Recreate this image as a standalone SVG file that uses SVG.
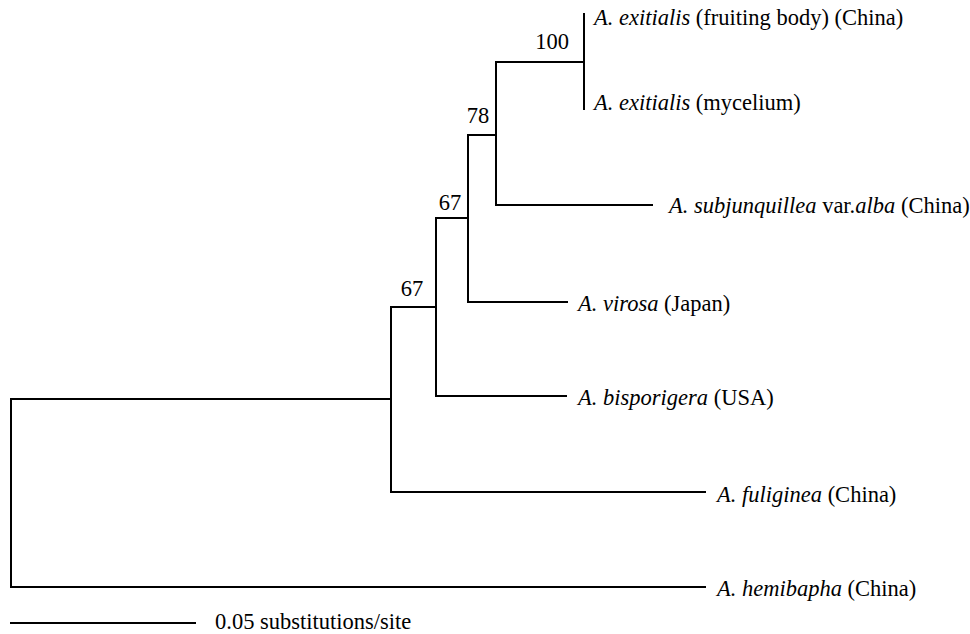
<svg xmlns="http://www.w3.org/2000/svg" width="970" height="634" viewBox="0 0 970 634">
<style>
.br{fill:none;stroke:#000;stroke-width:2;stroke-linecap:square}
.t{font-family:'Liberation Serif','Times New Roman',Times,'DejaVu Serif',serif;font-size:22.5px;fill:#000}
.i{font-style:italic}
.bs{text-anchor:middle}
</style>
<rect width="970" height="634" fill="#fff"/>
<g id="connectors">
<path class="br" d="M11,399 V587 H705"/>
<path class="br" d="M11,399 H391"/>
<path class="br" d="M391,307 V492 H705"/>
<path class="br" d="M391,307 H436"/>
<path class="br" d="M436,218 V396 H566"/>
<path class="br" d="M436,218 H468"/>
<path class="br" d="M468,135 V302 H567"/>
<path class="br" d="M468,135 H496"/>
<path class="br" d="M496,62 V205 H652"/>
<path class="br" d="M496,62 H584"/>
<path class="br" d="M584,14 V109"/>
</g>
<g id="node-100"><text class="t bs" x="552" y="49">100</text></g>
<g id="node-78"><text class="t bs" x="478" y="123">78</text></g>
<g id="node-67a"><text class="t bs" x="450" y="210">67</text></g>
<g id="node-67b"><text class="t bs" x="412" y="296">67</text></g>
<g id="leaf-exitialis-fb"><text class="t" x="594" y="25"><tspan class="i">A. exitialis</tspan> (fruiting body) (China)</text></g>
<g id="leaf-exitialis-my"><text class="t" x="594" y="110"><tspan class="i">A. exitialis</tspan> (mycelium)</text></g>
<g id="leaf-subjunquillea"><text class="t" x="669" y="213"><tspan class="i">A. subjunquillea</tspan> var.<tspan class="i">alba</tspan> (China)</text></g>
<g id="leaf-virosa"><text class="t" x="578" y="311"><tspan class="i">A. virosa</tspan> (Japan)</text></g>
<g id="leaf-bisporigera"><text class="t" x="578" y="405"><tspan class="i">A. bisporigera</tspan> (USA)</text></g>
<g id="leaf-fuliginea"><text class="t" x="717" y="502"><tspan class="i">A. fuliginea</tspan> (China)</text></g>
<g id="leaf-hemibapha"><text class="t" x="717" y="596"><tspan class="i">A. hemibapha</tspan> (China)</text></g>
<g id="scale-bar">
<path class="br" d="M11,623 H195"/>
<text class="t" x="215" y="629">0.05 substitutions/site</text>
</g>
</svg>
